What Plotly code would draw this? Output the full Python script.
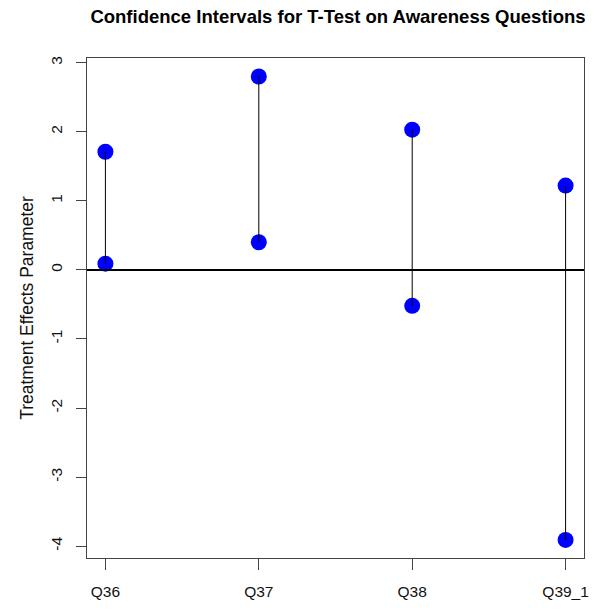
import plotly.graph_objects as go

questions = ["Q36", "Q37", "Q38", "Q39_1"]
upper = [1.71, 2.80, 2.03, 1.22]
lower = [0.09, 0.40, -0.52, -3.91]
y_ticks = [-4, -3, -2, -1, 0, 1, 2, 3]

xpos = list(range(1, len(questions) + 1))

fig = go.Figure()

# points
fig.add_trace(go.Scatter(
    x=xpos + xpos, y=upper + lower, mode="markers",
    marker=dict(color="#0000ff", size=16, line=dict(width=0)),
    hoverinfo="skip", showlegend=False))

# segments (drawn over points, as in the reference)
sx, sy = [], []
for xi, lo, hi in zip(xpos, lower, upper):
    sx += [xi, xi, None]
    sy += [lo, hi, None]
fig.add_trace(go.Scatter(x=sx, y=sy, mode="lines",
                         line=dict(color="black", width=1),
                         hoverinfo="skip", showlegend=False))

# zero line
fig.add_shape(type="line", xref="paper", x0=0, x1=1, yref="y", y0=0, y1=0,
              line=dict(color="black", width=2))

fig.update_layout(
    width=600, height=611,
    margin=dict(l=87, r=11, t=58, b=48),
    paper_bgcolor="white", plot_bgcolor="white",
    font=dict(family="Liberation Sans, Arial, sans-serif", color="black"),
    title=dict(text="<b>Confidence Intervals for T-Test on Awareness Questions</b>",
               x=(87 + 589) / 2 / 600, xanchor="center", y=1 - 17 / 611, yanchor="middle",
               font=dict(family="Liberation Sans, Arial", size=18.5, color="black")),
    xaxis=dict(range=[0.88, 4.12], tickmode="array", tickvals=xpos, ticktext=questions,
               showgrid=False, zeroline=False, showline=True, mirror=True,
               linecolor="#444", linewidth=1, ticks="outside", ticklen=11,
               tickcolor="#444", tickfont=dict(size=15.5, color="#111"),
               ticklabelstandoff=8),
    yaxis=dict(range=[-4.172, 3.068], tickmode="array", tickvals=y_ticks,
               ticktext=[str(v) for v in y_ticks], tickangle=-90,
               showgrid=False, zeroline=False, showline=True, mirror=True,
               linecolor="#444", linewidth=1, ticks="outside", ticklen=10,
               tickcolor="#444", tickfont=dict(size=15.5, color="#111"),
               ticklabelstandoff=8,
               title=dict(text="Treatment Effects Parameter", font=dict(size=17.5, color="#111"),
                          standoff=9)),
)

fig.write_html("out.html", config={"displayModeBar": False},
               post_script="document.body.style.margin='0';document.body.style.overflow='hidden';")
